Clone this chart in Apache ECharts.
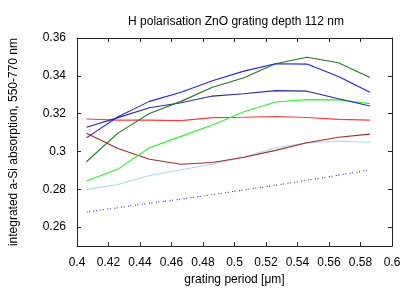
<!DOCTYPE html>
<html>
<head>
<meta charset="utf-8">
<script src="https://cdn.jsdelivr.net/npm/echarts@6/dist/echarts.min.js"></script>
<style>html,body{margin:0;padding:0;background:#fff;}#c{width:415px;height:291px;}</style>
</head>
<body>
<div id="c"></div>
<script>
const periods = [0.406, 0.426, 0.446, 0.466, 0.486, 0.506, 0.526, 0.546, 0.566, 0.586];
const xTicks = [0.4, 0.42, 0.44, 0.46, 0.48, 0.5, 0.52, 0.54, 0.56, 0.58, 0.6];
const yTicks = [0.26, 0.28, 0.3, 0.32, 0.34, 0.36];

const blue      = [0.3072, 0.3184, 0.3265, 0.3313, 0.3374, 0.3425, 0.3464, 0.3462, 0.3396, 0.3313];
const navy      = [0.3128, 0.3179, 0.3231, 0.3258, 0.3293, 0.3305, 0.3322, 0.3319, 0.3279, 0.3241];
const darkGreen = [0.2946, 0.3097, 0.3201, 0.3265, 0.3340, 0.3390, 0.3464, 0.3498, 0.3469, 0.3391];
const green     = [0.2844, 0.2907, 0.3020, 0.3080, 0.3140, 0.3210, 0.3262, 0.3274, 0.3273, 0.3253];
const red       = [0.3172, 0.3166, 0.3166, 0.3163, 0.3179, 0.3181, 0.3185, 0.3180, 0.3170, 0.3166];
const darkRed   = [0.3097, 0.3016, 0.2959, 0.2933, 0.2942, 0.2970, 0.3006, 0.3046, 0.3075, 0.3092];
const lightBlue = [0.2800, 0.2826, 0.2873, 0.2904, 0.2933, 0.2971, 0.3020, 0.3046, 0.3054, 0.3049];
const dotted    = [0.2680, 0.2703, 0.2727, 0.2748, 0.2772, 0.2797, 0.2822, 0.2848, 0.2875, 0.2902];

const FONT = 'Liberation Sans';
const fmt = v => String(parseFloat(v.toFixed(3)));
const pair = arr => periods.map((p, i) => [p, arr[i]]);

function line(name, data, color, type) {
  return {
    name, type: 'line', data: pair(data), symbol: 'none', silent: true,
    lineStyle: { color, width: 1.1, type: type || 'solid' }
  };
}

const axisCommon = {
  axisLine: { show: true, lineStyle: { color: '#222', width: 1 } },
  splitLine: { show: false }
};

const option = {
  animation: false,
  backgroundColor: '#fff',
  title: {
    text: 'H polarisation ZnO grating depth 112 nm',
    left: 231, top: 11, textAlign: 'center',
    textStyle: { fontFamily: FONT, fontSize: 12, fontWeight: 'normal', color: '#000' }
  },
  grid: { left: 70.5, right: 23, top: 38, bottom: 41 },
  xAxis: [
    Object.assign({}, axisCommon, {
      type: 'value', min: 0.4, max: 0.6, position: 'bottom',
      name: 'grating period [μm]', nameLocation: 'middle', nameGap: 27,
      nameTextStyle: { fontFamily: FONT, fontSize: 12, color: '#000' },
      axisTick: { show: true, inside: true, length: 4, customValues: xTicks, lineStyle: { color: '#222' } },
      axisLabel: { customValues: xTicks, formatter: fmt, margin: 11, fontFamily: FONT, fontSize: 12, color: '#000' }
    }),
    Object.assign({}, axisCommon, {
      type: 'value', min: 0.4, max: 0.6, position: 'top',
      axisTick: { show: true, inside: true, length: 4, customValues: xTicks, lineStyle: { color: '#222' } },
      axisLabel: { show: false }
    })
  ],
  yAxis: [
    Object.assign({}, axisCommon, {
      type: 'value', min: 0.25, max: 0.36, position: 'left',
      name: 'integrated a-Si absorption, 550-770 nm', nameLocation: 'middle', nameGap: 57,
      nameTextStyle: { fontFamily: FONT, fontSize: 12, color: '#000' },
      axisTick: { show: true, inside: true, length: 4, customValues: yTicks, lineStyle: { color: '#222' } },
      axisLabel: { customValues: yTicks, formatter: fmt, margin: 11, fontFamily: FONT, fontSize: 12, color: '#000' }
    }),
    Object.assign({}, axisCommon, {
      type: 'value', min: 0.25, max: 0.36, position: 'right',
      axisTick: { show: true, inside: true, length: 4, customValues: yTicks, lineStyle: { color: '#222' } },
      axisLabel: { show: false }
    })
  ],
  series: [
    line('dotted', dotted, '#3030b0', [1, 1.5, 1, 3.5]),
    line('lightBlue', lightBlue, '#add8e6'),
    line('darkRed', darkRed, '#a52a2a'),
    line('red', red, '#ff3838'),
    line('green', green, '#30f030'),
    line('navy', navy, '#2a2a9c'),
    line('darkGreen', darkGreen, '#267526'),
    line('blue', blue, '#2020ff')
  ]
};

echarts.init(document.getElementById('c'), null, { renderer: 'canvas' }).setOption(option);
</script>
</body>
</html>
